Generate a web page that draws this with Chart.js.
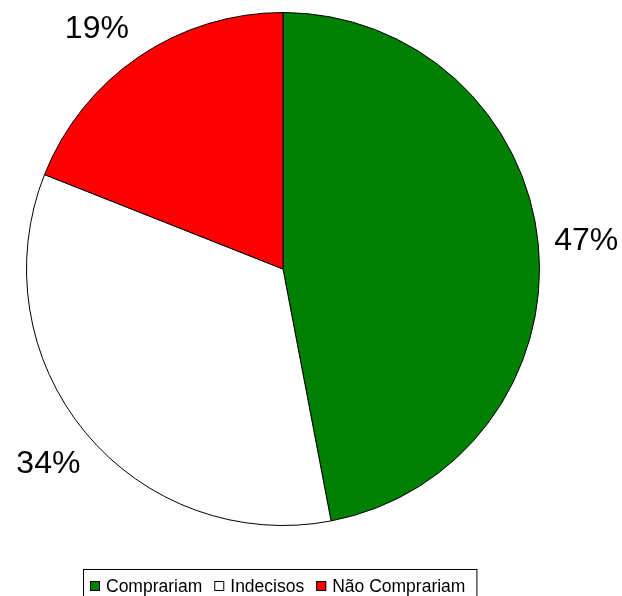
<!DOCTYPE html>
<html>
<head>
<meta charset="utf-8">
<script src="https://cdn.jsdelivr.net/npm/chart.js@4.4.0/dist/chart.umd.min.js"></script>
<style>
  html, body { margin: 0; padding: 0; background: #fff; }
  #wrap { position: relative; width: 622px; height: 596px; overflow: hidden; }
</style>
</head>
<body>
<div id="wrap"><canvas id="c" width="622" height="596"></canvas></div>
<script>
// ---- data ----
const categories = ["Comprariam", "Indecisos", "Não Comprariam"];
const values = [47, 34, 19];
const sliceColors = ["#008000", "#FFFFFF", "#FF0000"];

const FONT = "'Liberation Sans', Arial, sans-serif";

// percentage labels outside the slices (kept on a ring, slid along it if too close to the top)
const outsideLabels = {
  id: 'outsideLabels',
  afterDatasetsDraw(chart) {
    const ctx = chart.ctx;
    const meta = chart.getDatasetMeta(0);
    const total = values.reduce((a, b) => a + b, 0);
    ctx.save();
    ctx.font = "32px " + FONT;
    ctx.fillStyle = "#000";
    ctx.textAlign = "center";
    ctx.textBaseline = "middle";
    const minY = 28;
    meta.data.forEach((arc, i) => {
      const p = arc.getProps(['x', 'y', 'startAngle', 'endAngle', 'outerRadius'], true);
      const mid = (p.startAngle + p.endAngle) / 2;
      const R = p.outerRadius + 48;
      let x = p.x + Math.cos(mid) * R;
      let y = p.y + Math.sin(mid) * R;
      if (y < minY) {
        y = minY;
        const dy = y - p.y;
        const dx = Math.sqrt(Math.max(R * R - dy * dy, 0));
        x = p.x + (Math.cos(mid) < 0 ? -dx : dx);
      }
      ctx.fillText(Math.round(values[i] / total * 100) + "%", x, y + 1);
    });
    ctx.restore();
  }
};

// boxed legend at the bottom
const boxLegend = {
  id: 'boxLegend',
  afterDraw(chart) {
    const ctx = chart.ctx;
    const labels = chart.data.labels;
    const colors = chart.data.datasets[0].backgroundColor;
    ctx.save();
    ctx.font = "17.5px " + FONT;
    ctx.textBaseline = "alphabetic";
    const box = 10, pad = 7, textGap = 6, itemGap = 12;
    let w = pad;
    labels.forEach((l, i) => {
      w += box + textGap + ctx.measureText(l).width + (i < labels.length - 1 ? itemGap : 0);
    });
    w += pad + 4;
    const left = 83, top = 569, h = 32;
    ctx.fillStyle = "#fff";
    ctx.fillRect(left, top, w, h);
    ctx.strokeStyle = "#000";
    ctx.lineWidth = 1;
    ctx.strokeRect(left + 0.5, top + 0.5, w, h);
    let x = left + pad;
    const base = top + 23;
    labels.forEach((l, i) => {
      ctx.fillStyle = colors[i];
      ctx.fillRect(x, base - 11, box, box);
      ctx.strokeStyle = "#000";
      ctx.strokeRect(x + 0.5, base - 10.5, box - 1, box - 1);
      x += box + textGap;
      ctx.fillStyle = "#000";
      ctx.fillText(l, x, base);
      x += ctx.measureText(l).width + itemGap;
    });
    ctx.restore();
  }
};

new Chart(document.getElementById('c'), {
  type: 'pie',
  data: {
    labels: categories,
    datasets: [{
      data: values,
      backgroundColor: sliceColors,
      borderColor: "#000",
      borderWidth: 1
    }]
  },
  options: {
    responsive: false,
    animation: false,
    devicePixelRatio: 1,
    layout: { padding: { left: 26, right: 82, top: 12, bottom: 70 } },
    plugins: {
      legend: { display: false },
      tooltip: { enabled: false }
    }
  },
  plugins: [outsideLabels, boxLegend]
});
</script>
</body>
</html>
